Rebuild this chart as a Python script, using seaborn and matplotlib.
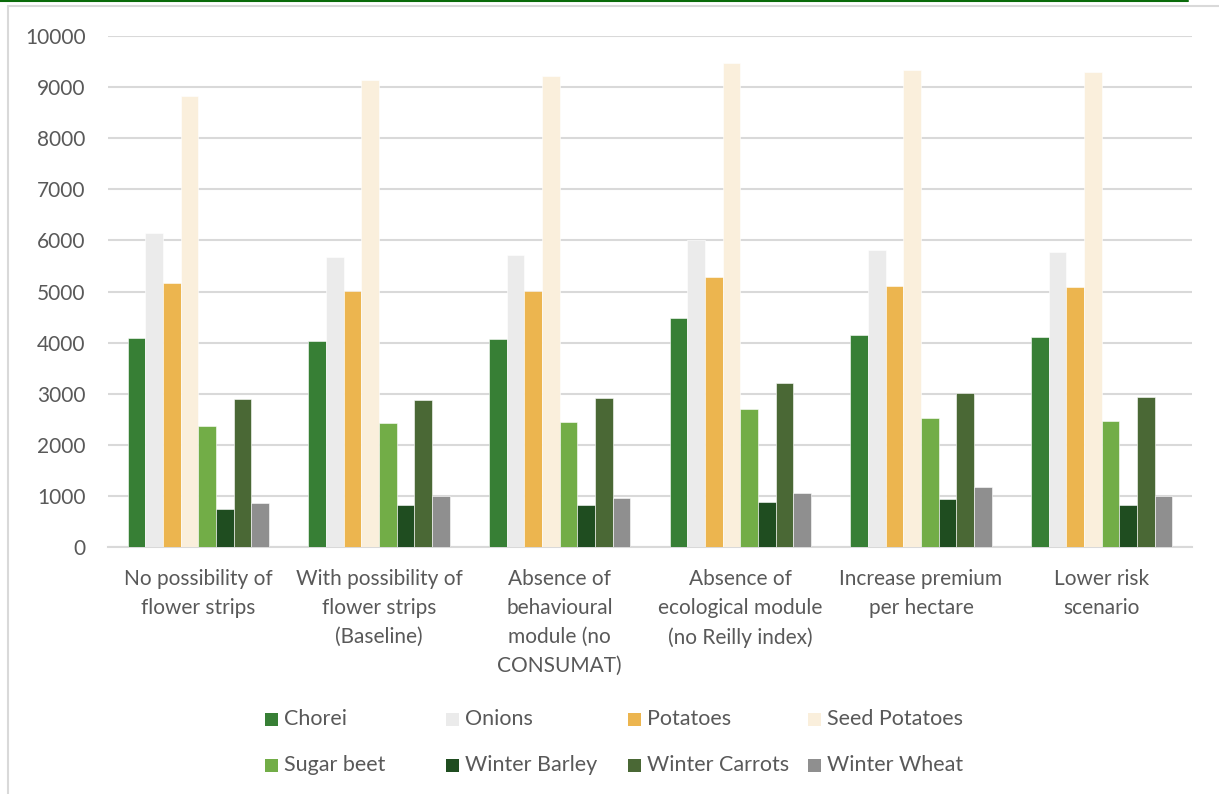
import matplotlib
matplotlib.use("Agg")
import matplotlib.pyplot as plt
import seaborn as sns
import pandas as pd
from matplotlib.patches import Rectangle
from matplotlib.lines import Line2D

# Scenario labels (x axis)
scenarios = [
    "No possibility of\nflower strips",
    "With possibility of\nflower strips\n(Baseline)",
    "Absence of\nbehavioural\nmodule (no\nCONSUMAT)",
    "Absence of\necological module\n(no Reilly index)",
    "Increase premium\nper hectare",
    "Lower risk\nscenario",
]

crops = ["Chorei", "Onions", "Potatoes", "Seed Potatoes",
         "Sugar beet", "Winter Barley", "Winter Carrots", "Winter Wheat"]

# Values per crop, one entry per scenario
chorei = [4090, 4035, 4075, 4490, 4145, 4110]
onions = [6150, 5680, 5715, 6000, 5810, 5775]
potatoes = [5170, 5015, 5015, 5285, 5115, 5085]
seed_potatoes = [8825, 9145, 9215, 9470, 9325, 9305]
sugar_beet = [2370, 2420, 2440, 2695, 2520, 2465]
winter_barley = [745, 820, 820, 875, 935, 830]
winter_carrots = [2905, 2880, 2910, 3205, 3010, 2930]
winter_wheat = [855, 990, 965, 1050, 1180, 1005]

series = [chorei, onions, potatoes, seed_potatoes,
          sugar_beet, winter_barley, winter_carrots, winter_wheat]

colors = ["#377F35", "#EBEBEB", "#ECB54F", "#FAEFDC",
          "#72AD47", "#1F4D20", "#4A6835", "#8F8F8F"]

rows = []
for crop, vals in zip(crops, series):
    for sc, v in zip(scenarios, vals):
        rows.append({"Scenario": sc, "Crop": crop, "Value": v})
df = pd.DataFrame(rows)

sns.set_theme(style="white")
plt.rcParams["font.family"] = ["Lato", "DejaVu Sans"]

W, H = 1219, 794
fig = plt.figure(figsize=(W / 100, H / 100), dpi=100)
ax = fig.add_axes([108 / W, 1 - 547 / H, (1192 - 108) / W, (547 - 36) / H])

sns.barplot(data=df, x="Scenario", y="Value", hue="Crop",
            hue_order=crops, order=scenarios, palette=colors, saturation=1,
            width=0.783, gap=0, errorbar=None, legend=False,
            edgecolor="#FFFFFF", linewidth=0.4, ax=ax, zorder=3)

ax.set_ylim(0, 10000)
ax.set_xlim(-0.5, len(scenarios) - 0.5)
ax.set_yticks(range(0, 10001, 1000))
ax.yaxis.grid(True, color="#D9D9D9", linewidth=1.5, zorder=0)
ax.set_axisbelow(True)
for s in ["top", "right", "left"]:
    ax.spines[s].set_visible(False)
ax.spines["bottom"].set_color("#D9D9D9")
ax.spines["bottom"].set_linewidth(1.5)
ax.set_xlabel("")
ax.set_ylabel("")
ax.tick_params(axis="y", length=0, pad=16, labelsize=15, labelcolor="#595959")
ax.tick_params(axis="x", length=0, pad=16, labelsize=15, labelcolor="#595959")
for lbl in ax.get_xticklabels():
    lbl.set_linespacing(1.55)
    lbl.set_verticalalignment("top")

# Legend: two rows of four entries
col_x = [265, 446, 628, 808]
row_y = [719, 765]
sq = 13
for i, (crop, c) in enumerate(zip(crops, colors)):
    x = col_x[i % 4]
    y = row_y[i // 4]
    fig.patches.append(Rectangle((x / W, 1 - (y + sq / 2) / H), sq / W, sq / H,
                                 transform=fig.transFigure, facecolor=c,
                                 edgecolor="none"))
    fig.text((x + 19) / W, 1 - y / H, crop, fontsize=15.5, color="#595959",
             va="center", ha="left")

# Chart frame and top rule
fig.add_artist(Line2D([8 / W, 8 / W], [0, 1 - 6 / H], transform=fig.transFigure,
                      color="#D9D9D9", linewidth=1.5))
fig.add_artist(Line2D([8 / W, 1], [1 - 6 / H, 1 - 6 / H], transform=fig.transFigure,
                      color="#D9D9D9", linewidth=1.5))
fig.add_artist(Line2D([0, 1188 / W], [1 - 0.8 / H, 1 - 0.8 / H], transform=fig.transFigure,
                      color="#0A6B0A", linewidth=1.5))

fig.savefig("out.png", dpi=100)
